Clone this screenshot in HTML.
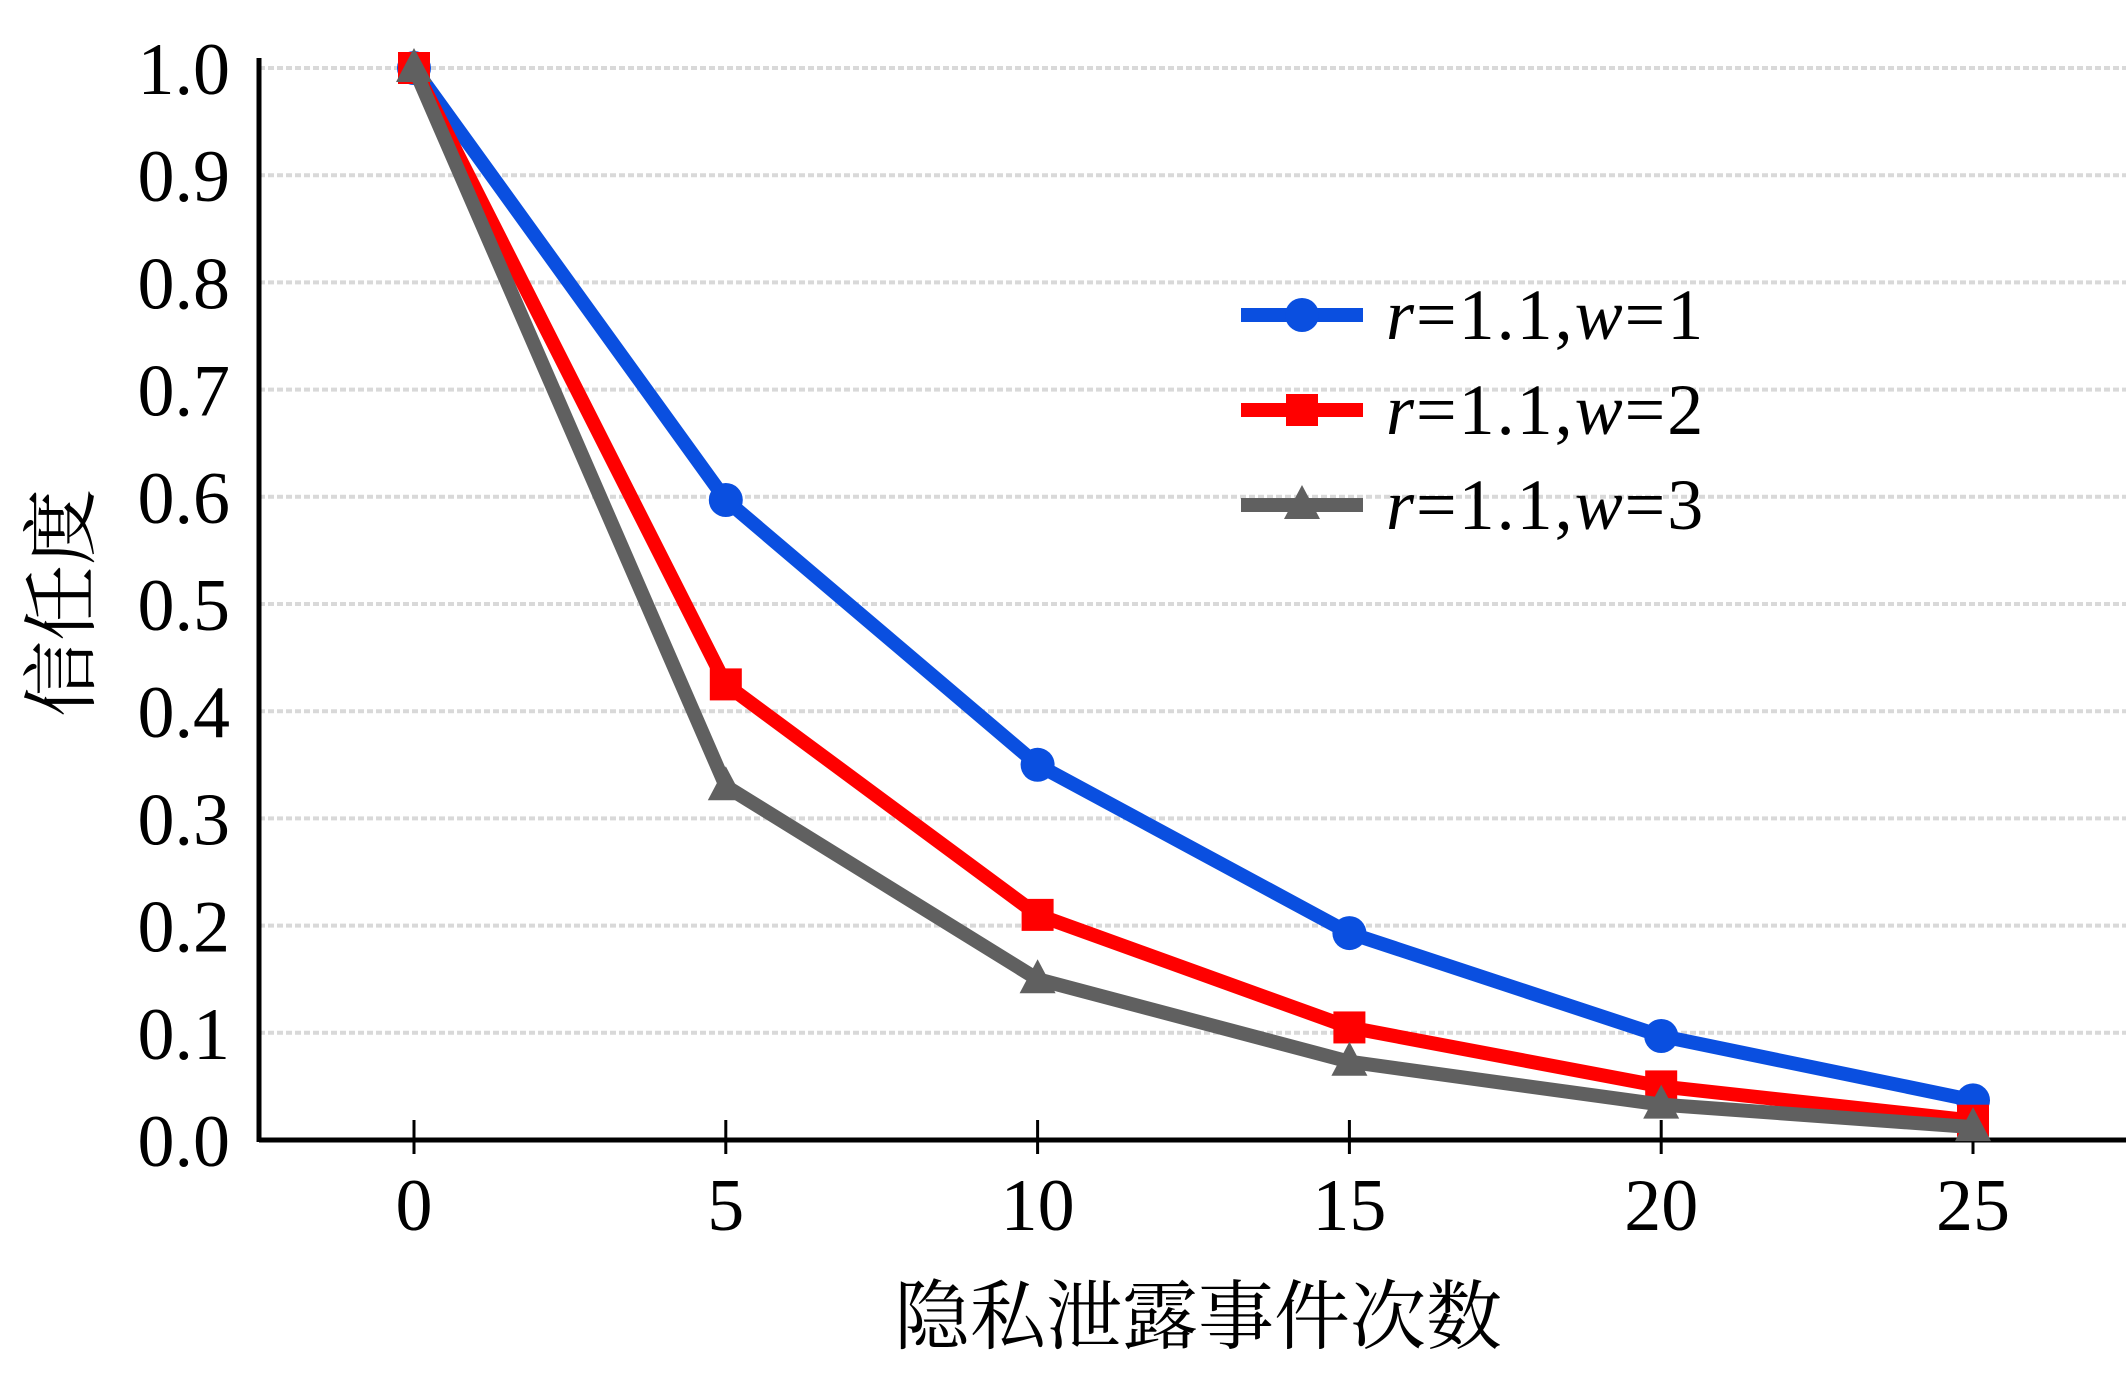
<!DOCTYPE html>
<html><head><meta charset="utf-8"><style>
html,body{margin:0;padding:0;background:#fff;}
svg{display:block;}
text,tspan{font-family:"Liberation Serif","Noto Serif CJK SC",serif;fill:#000;}
</style></head><body>
<svg id="chart" width="2126" height="1399" viewBox="0 0 2126 1399" xmlns="http://www.w3.org/2000/svg">
<g id="grid"></g>
<g id="axes"></g>
<g id="series"></g>
<g id="legend"></g>
<text x="1198" y="1343" font-size="76" text-anchor="middle" style="font-family:'Noto Serif CJK SC','Noto Sans CJK SC',serif">隐私泄露事件次数</text>
<text transform="translate(88,603) rotate(-90)" font-size="76" text-anchor="middle" style="font-family:'Noto Serif CJK SC','Noto Sans CJK SC',serif">信任度</text>
</svg>
<script>
const categories = [0, 5, 10, 15, 20, 25];
const seriesW1 = [1.0, 0.597, 0.35, 0.193, 0.097, 0.037];
const seriesW2 = [1.0, 0.425, 0.21, 0.105, 0.05, 0.018];
const seriesW3 = [1.0, 0.33, 0.15, 0.073, 0.033, 0.012];
const yTicks = [0.0, 0.1, 0.2, 0.3, 0.4, 0.5, 0.6, 0.7, 0.8, 0.9, 1.0];
const yTickLabels = ["0.0","0.1","0.2","0.3","0.4","0.5","0.6","0.7","0.8","0.9","1.0"];
const legendLabels = ["1", "2", "3"];

const NS = "http://www.w3.org/2000/svg";
const X0 = 259, XR = 2126, Y0 = 1140, YTOP = 68;
function xs(v){ return 414 + (v - 0) * (1973 - 414) / 25; }
function ys(v){ return Y0 - v * (Y0 - YTOP); }
function mk(tag, attrs, parent){ const e = document.createElementNS(NS, tag); for (const k in attrs) e.setAttribute(k, attrs[k]); parent.appendChild(e); return e; }

const grid = document.getElementById('grid');
const axes = document.getElementById('axes');
yTicks.forEach((t, i) => {
  if (t > 0) {
    const g = mk('line', {x1: X0, x2: XR, y1: ys(t), y2: ys(t), stroke: '#d9d9d9', 'stroke-width': 4, 'stroke-dasharray': '6 3'}, grid);
    
    
  }
  const l = mk('text', {x: 230, y: ys(t) + 26, 'font-size': 74, 'text-anchor': 'end'}, axes);
  l.textContent = yTickLabels[i];
  
  
});
const ya = mk('line', {x1: X0, x2: X0, y1: 58, y2: Y0 + 2, stroke: '#000', 'stroke-width': 5}, axes);


const xa = mk('line', {x1: X0, x2: XR, y1: Y0, y2: Y0, stroke: '#000', 'stroke-width': 5}, axes);


categories.forEach(c => {
  const tk = mk('line', {x1: xs(c), x2: xs(c), y1: Y0 - 20, y2: Y0 + 14, stroke: '#000', 'stroke-width': 3}, axes);
  
  
  const tl = mk('text', {x: xs(c), y: 1230, 'font-size': 74, 'text-anchor': 'middle'}, axes);
  tl.textContent = String(c);
  
  
});

function marker(type, x, y, color, parent){
  let m;
  if (type === 'circle') m = mk('circle', {cx: x, cy: y, r: 17, fill: color}, parent);
  else if (type === 'square') m = mk('rect', {x: x - 16, y: y - 16, width: 32, height: 32, fill: color}, parent);
  else m = mk('polygon', {points: `${x},${y-20} ${x+18},${y+14} ${x-18},${y+14}`, fill: color}, parent);
  return m;
}
const seriesDefs = [
  {vals: seriesW1, color: '#0a4fe0', m: 'circle'},
  {vals: seriesW2, color: '#ff0000', m: 'square'},
  {vals: seriesW3, color: '#606060', m: 'triangle'}
];
const sg = document.getElementById('series');
seriesDefs.forEach((s, si) => {
  const pts = categories.map((c, i) => xs(c) + ',' + ys(s.vals[i])).join(' ');
  const pl = mk('polyline', {points: pts, fill: 'none', stroke: s.color, 'stroke-width': 14, 'stroke-linejoin': 'round'}, sg);
  
  
  categories.forEach((c, i) => {
    const mm = marker(s.m, xs(c), ys(s.vals[i]), s.color, sg);
    
    
  });
});
const lg = document.getElementById('legend');
seriesDefs.forEach((s, i) => {
  const y = 315 + i * 95;
  const ll = mk('line', {x1: 1241, x2: 1363, y1: y, y2: y, stroke: s.color, 'stroke-width': 14}, lg);
  
  
  const lm = marker(s.m, 1302, y, s.color, lg);
  
  
  const t = mk('text', {x: 1386, y: y + 24, 'font-size': 72, 'letter-spacing': 2}, lg);
  
  
  const parts = [['r', true], ['=1.1,', false], ['w', true], ['=' + legendLabels[i], false]];
  parts.forEach(p => {
    const ts = mk('tspan', {'font-style': p[1] ? 'italic' : 'normal'}, t);
    ts.textContent = p[0];
  });
});
</script>
</body></html>
